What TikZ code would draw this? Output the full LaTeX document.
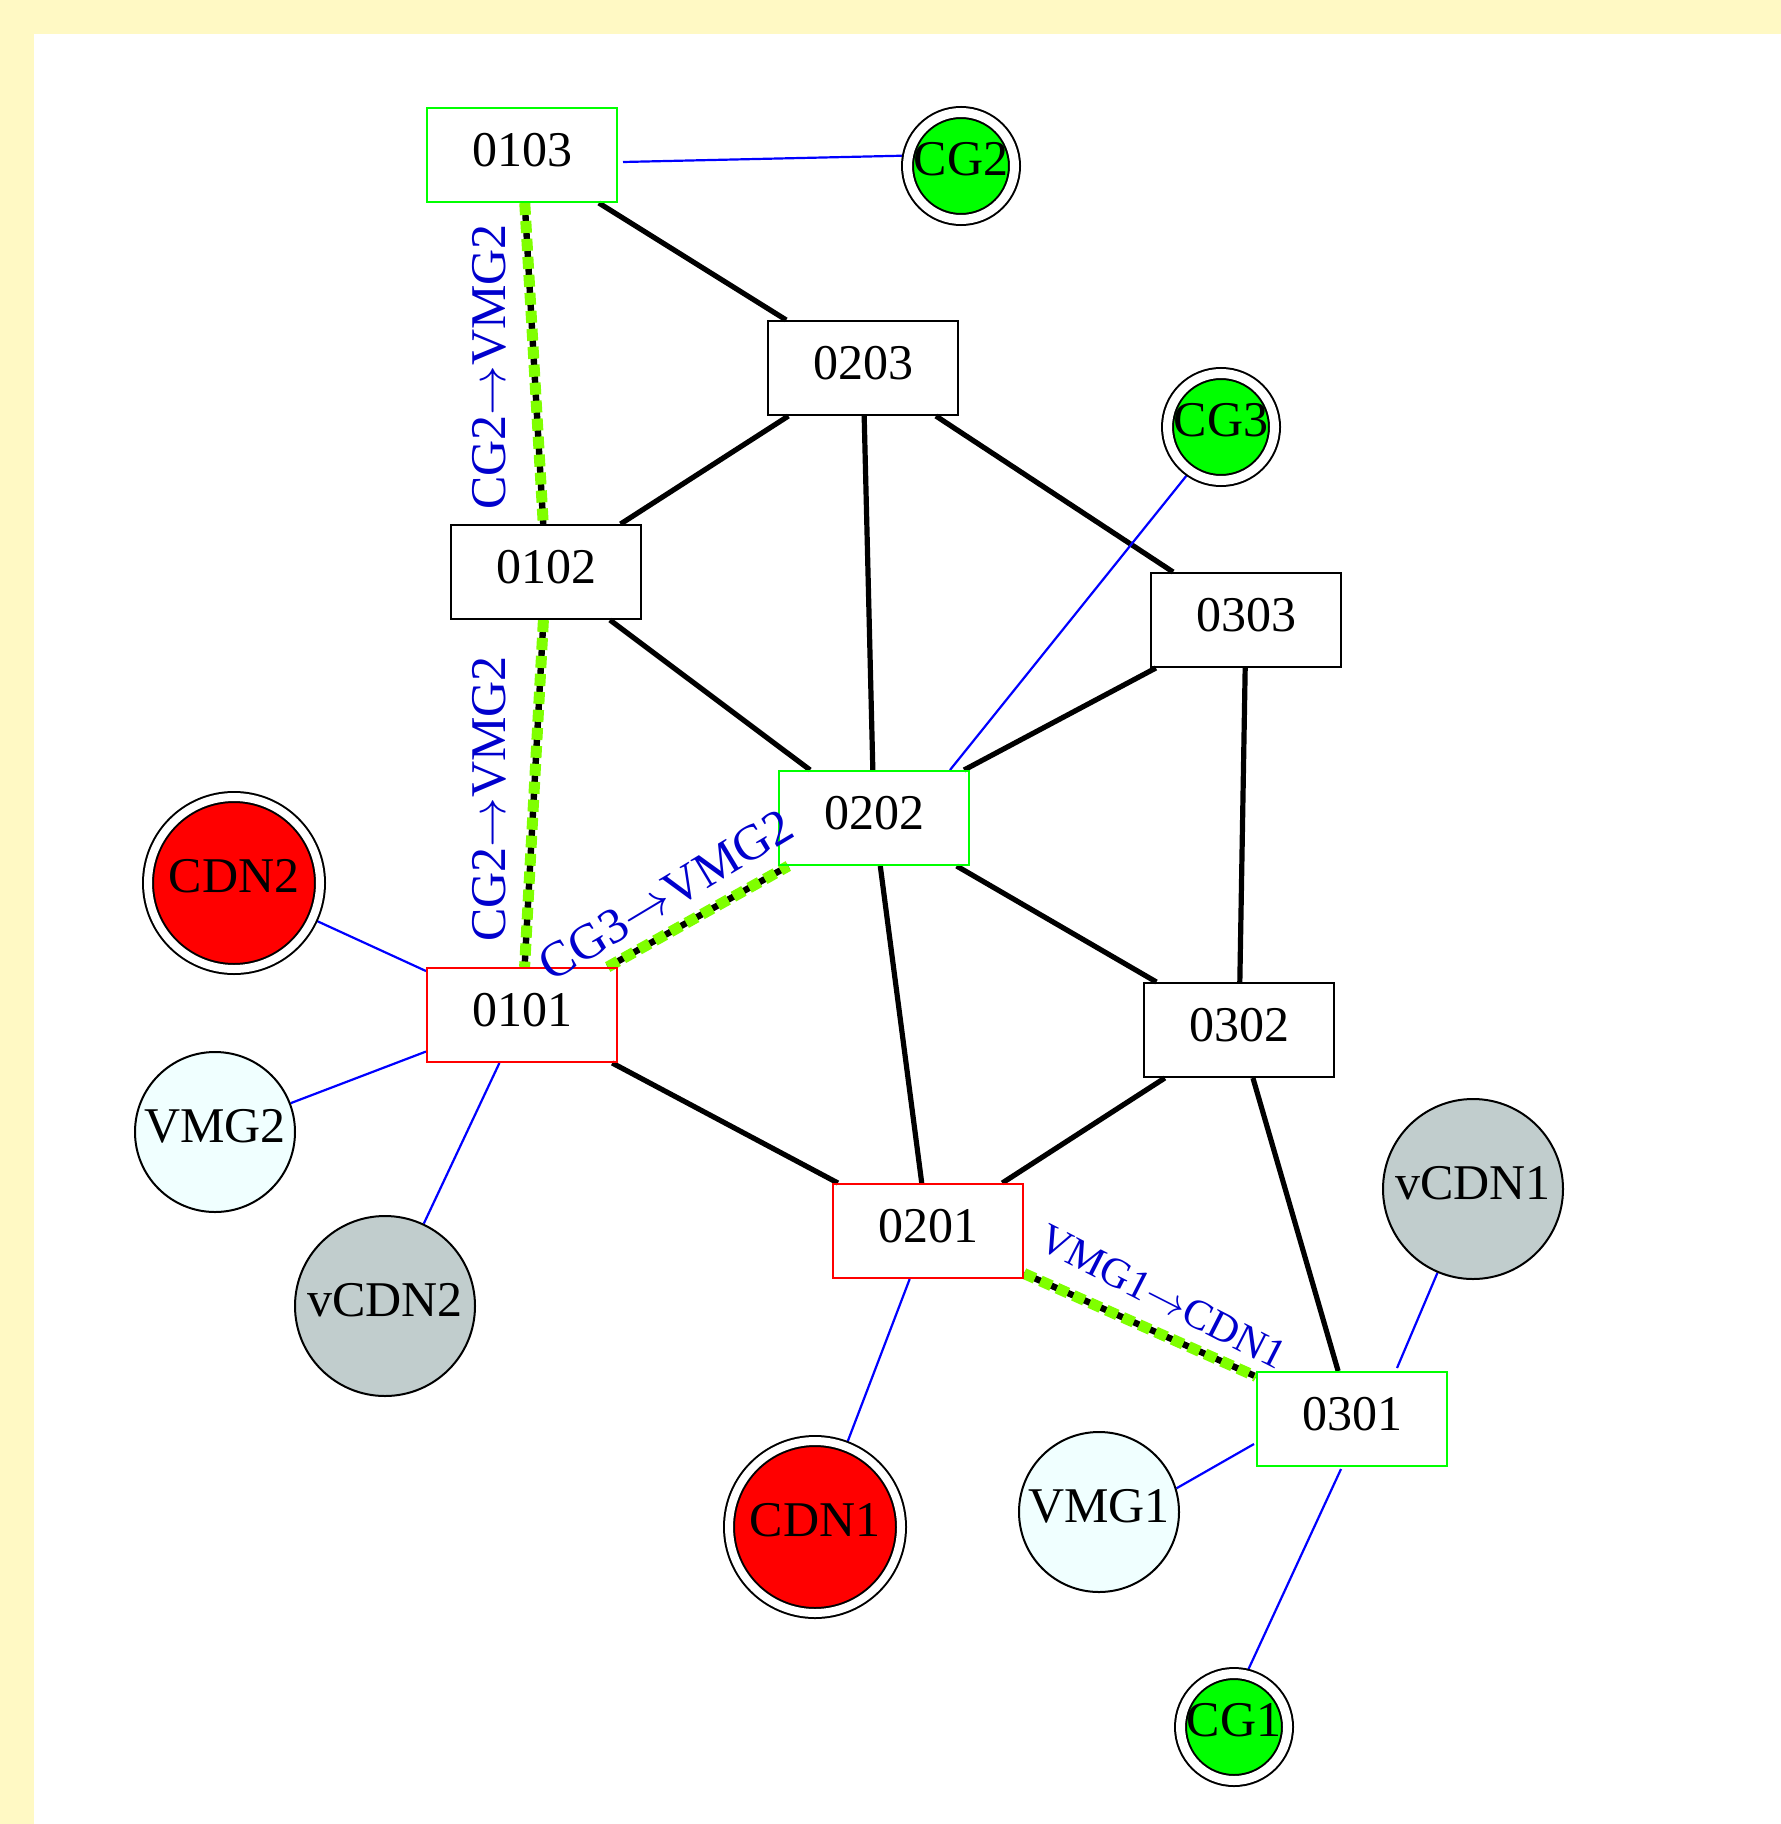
\documentclass[tikz,border=0pt]{standalone}
\usepackage{fontspec}
\setmainfont{Liberation Serif}
\usetikzlibrary{backgrounds}
\definecolor{paper}{RGB}{255,249,196}
\definecolor{vmgfill}{RGB}{240,255,255}
\definecolor{vcdnfill}{RGB}{193,205,205}
\definecolor{chartreuse}{RGB}{127,255,0}
\definecolor{labelblue}{RGB}{0,0,205}
\definecolor{linkblue}{RGB}{0,0,255}
\newcommand{\pathto}{\ensuremath{\rightarrow}}

\begin{document}
\begin{tikzpicture}[x=0.5pt,y=-0.5pt,
  font=\fontsize{25pt}{30pt}\selectfont,
  router/.style={rectangle, draw, line width=1pt, minimum width=95pt,
    minimum height=47pt, inner sep=0pt, text depth=5pt},
  gwrouter/.style={router, draw=green},
  dnrouter/.style={router, draw=red},
  roundnode/.style={circle, draw, line width=1pt, inner sep=0pt, text depth=6pt},
  vmg/.style={roundnode, fill=vmgfill, minimum size=80pt},
  vcdn/.style={roundnode, fill=vcdnfill, minimum size=90pt},
  twoline/.style={circle, draw, line width=1pt, double, double distance=#1,
    inner sep=-1.5pt, text depth=7pt},
  cg/.style={twoline=4.5pt, fill=green, minimum size=53.5pt},
  cdn/.style={twoline=4pt, fill=red, minimum size=86pt},
  trunk/.style={line width=2.6pt, black},
  access/.style={line width=1.1pt, linkblue},
  vpath/.style={line width=5.5pt, chartreuse, dash pattern=on 6pt off 3pt,
    preaction={draw=black, line width=3.2pt, solid}},
  pathlabel/.style={text=labelblue, inner sep=0pt}
]
% routers
\node[gwrouter] (r0103) at (522,155) {0103};
\node[router]   (r0203) at (863,368) {0203};
\node[router]   (r0102) at (546,572) {0102};
\node[router]   (r0303) at (1246,620) {0303};
\node[gwrouter] (r0202) at (874,818) {0202};
\node[dnrouter] (r0101) at (522,1015) {0101};
\node[router]   (r0302) at (1239,1030) {0302};
\node[dnrouter] (r0201) at (928,1231) {0201};
\node[gwrouter] (r0301) at (1352,1419) {0301};

% attached hosts
\node[cg]   (cg2)   at (961,166)   {CG2};
\node[cg]   (cg3)   at (1221,427)  {CG3};
\node[cg]   (cg1)   at (1234,1727) {CG1};
\node[cdn]  (cdn2)  at (234,883)   {CDN2};
\node[cdn]  (cdn1)  at (815,1527)  {CDN1};
\node[vmg]  (vmg2)  at (215,1132)  {VMG2};
\node[vmg]  (vmg1)  at (1099,1512) {VMG1};
\node[vcdn] (vcdn2) at (385,1306)  {vCDN2};
\node[vcdn] (vcdn1) at (1473,1189) {vCDN1};

% path labels
\node[pathlabel, rotate=90] (lab1) at (489,367) {CG2\pathto VMG2};
\node[pathlabel, rotate=90] (lab2) at (489,799) {CG2\pathto VMG2};
\node[pathlabel, rotate=31] (lab3) at (666,895) {CG3\pathto VMG2};
\node[pathlabel, rotate=-27, font=\fontsize{21pt}{25pt}\selectfont] (lab4) at (1163,1297) {VMG1\pathto CDN1};

\begin{scope}[on background layer]
  \fill[paper] (0,0) rectangle (1781,1824);
  \fill[white] (34,34) rectangle (1781,1824);
  \useasboundingbox (0,0) rectangle (1781,1824);

  % backbone links
  \draw[trunk] (r0103) -- (r0203);
  \draw[trunk] (r0203) -- (r0102);
  \draw[trunk] (r0203) -- (r0202);
  \draw[trunk] (r0203) -- (r0303);
  \draw[trunk] (r0102) -- (r0202);
  \draw[trunk] (r0303) -- (r0202);
  \draw[trunk] (r0303) -- (r0302);
  \draw[trunk] (r0202) -- (r0302);
  \draw[trunk] (r0202) -- (r0201);
  \draw[trunk] (r0101) -- (r0201);
  \draw[trunk] (r0302) -- (r0201);
  \draw[trunk] (r0302) -- (r0301);

  % access links
  \draw[access] ([shift={(5,7)}]r0103.east) -- (cg2.169);
  \draw[access] ([shift={(-20,0)}]r0202.north east) -- (cg3.235);
  \draw[access] (r0101) -- (cdn2);
  \draw[access] (r0101) -- (vmg2);
  \draw[access] (r0101) -- (vcdn2);
  \draw[access] (r0201) -- (cdn1);
  \draw[access] ([shift={(-2,25)}]r0301.west) -- (vmg1.17);
  \draw[access] ([shift={(-51,-3)}]r0301.north east) -- (vcdn1.247);
  \draw[access] ([shift={(-11,2)}]r0301.south) -- (cg1.77);

  % virtual paths
  \draw[vpath] (r0103) -- (r0102);
  \draw[vpath] (r0102) -- (r0101);
  \draw[vpath] (r0101) -- (r0202);
  \draw[vpath] (r0201) -- (r0301);
\end{scope}
\end{tikzpicture}
\end{document}
